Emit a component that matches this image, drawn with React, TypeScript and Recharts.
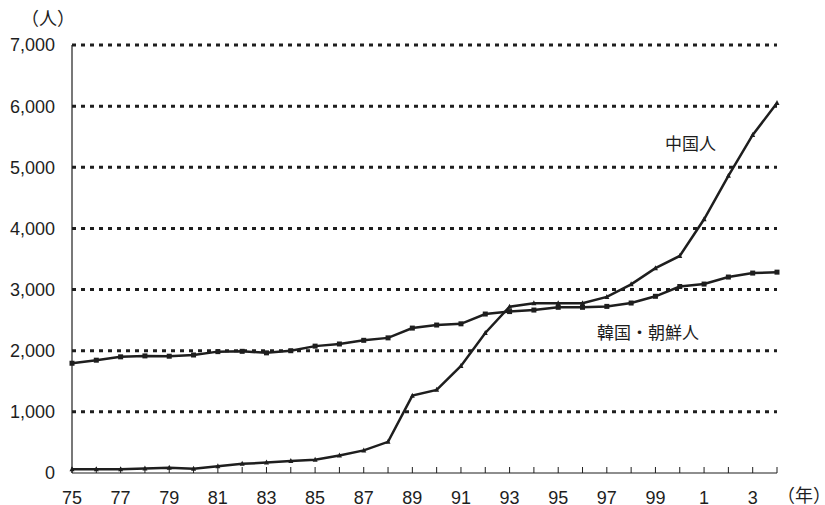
import React from 'react';
import { LineChart, Line, XAxis, YAxis, ReferenceLine } from 'recharts';

const years = ['75','76','77','78','79','80','81','82','83','84','85','86','87','88','89','90','91','92','93','94','95','96','97','98','99','0','1','2','3','4'];
const chinese = [60,60,60,75,85,70,110,150,170,195,215,285,370,510,1265,1360,1750,2290,2720,2775,2775,2775,2880,3085,3350,3550,4150,4860,5530,6050];
const korean = [1795,1845,1900,1915,1910,1930,1985,1990,1965,2000,2075,2110,2170,2210,2370,2420,2440,2600,2640,2665,2710,2710,2725,2780,2890,3050,3090,3205,3270,3285];
const yTicks = [0,1000,2000,3000,4000,5000,6000,7000];
const seriesNames = ['中国人', '韓国・朝鮮人'];

const data = years.map((y, i) => ({ year: y, chinese: chinese[i], korean: korean[i] }));

const INK = '#1e1e1e';
const NUM_FONT = '"Liberation Sans", Arial, sans-serif';
const CJK_FONT = '"Noto Sans CJK JP", sans-serif';

const XTick = (props: any) => {
  const { x, y, payload, index } = props;
  return (
    <g>
      <line x1={x} x2={x} y1={y} y2={y - 6} stroke={INK} strokeWidth={1} />
      {index % 2 === 0 ? (
        <text x={x} y={y + 31} textAnchor="middle" fontSize={18} fill={INK} fontFamily={NUM_FONT}>
          {payload.value}
        </text>
      ) : null}
    </g>
  );
};

const YTick = (props: any) => {
  const { x, y, payload } = props;
  return (
    <text x={x - 17} y={y} dy="0.36em" textAnchor="end" fontSize={18} fill={INK} fontFamily={NUM_FONT}>
      {payload.value.toLocaleString('en-US')}
    </text>
  );
};

const SquareDot = (props: any) => {
  const { cx, cy } = props;
  return <rect x={cx - 2.5} y={cy - 2.5} width={5} height={5} fill={INK} />;
};
const TriDot = (props: any) => {
  const { cx, cy } = props;
  return <path d={`M${cx - 2.5},${cy + 2} L${cx + 2.5},${cy + 2} L${cx},${cy - 3} Z`} fill={INK} />;
};

export default function App() {
  return (
    <div style={{ position: 'fixed', left: 0, top: 0, width: 825, height: 505, background: '#fff', overflow: 'hidden' }}>
      <LineChart width={825} height={505} data={data} margin={{ top: 45, right: 48, bottom: 0, left: 0 }}>
        {yTicks.filter(v => v > 0).map(v => (
          <ReferenceLine key={v} y={v} stroke={INK} strokeWidth={3} strokeDasharray="4 5" />
        ))}
        <XAxis
          dataKey="year"
          scale="point"
          padding={{ left: 0, right: 0 }}
          interval={0}
          height={32}
          tickLine={false}
          tickSize={0}
          tickMargin={0}
          axisLine={{ stroke: INK, strokeWidth: 1.2 }}
          tick={<XTick />}
        />
        <YAxis
          width={72}
          domain={[0, 7000]}
          ticks={yTicks}
          interval={0}
          tickLine={false}
          tickSize={0}
          tickMargin={0}
          axisLine={{ stroke: INK, strokeWidth: 1.2 }}
          tick={<YTick />}
        />
        <Line dataKey="korean" stroke={INK} strokeWidth={2.5} dot={<SquareDot />} isAnimationActive={false} />
        <Line dataKey="chinese" stroke={INK} strokeWidth={2.5} dot={<TriDot />} isAnimationActive={false} />
      </LineChart>
      <div style={{ position: 'absolute', left: 21, top: 7, fontSize: 18, fontFamily: CJK_FONT, color: INK, lineHeight: '20px' }}>（人）</div>
      <div style={{ position: 'absolute', left: 777, top: 484, fontSize: 18, fontFamily: CJK_FONT, color: INK, lineHeight: '20px', whiteSpace: 'nowrap' }}>（年）</div>
      <div style={{ position: 'absolute', left: 665, top: 132, fontSize: 17, fontFamily: CJK_FONT, color: INK, lineHeight: '22px', whiteSpace: 'nowrap' }}>{seriesNames[0]}</div>
      <div style={{ position: 'absolute', left: 597, top: 321, fontSize: 17, fontFamily: CJK_FONT, color: INK, lineHeight: '22px', whiteSpace: 'nowrap' }}>{seriesNames[1]}</div>
    </div>
  );
}
